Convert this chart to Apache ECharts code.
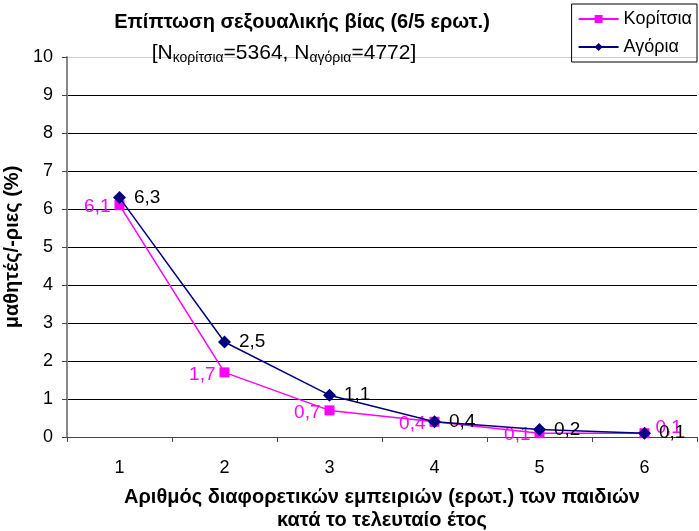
<!DOCTYPE html>
<html>
<head>
<meta charset="utf-8">
<script src="https://cdn.jsdelivr.net/npm/echarts@6/dist/echarts.min.js"></script>
<style>
  html, body { margin: 0; padding: 0; background: #fff; }
  #chart { width: 699px; height: 531px; }
</style>
</head>
<body>
<div id="chart"></div>
<script>
// categories (number of different experiences)
const categories = ['1', '2', '3', '4', '5', '6'];
// percentages
const girls = [6.1, 1.7, 0.7, 0.4, 0.1, 0.1];
const boys = [6.3, 2.5, 1.1, 0.4, 0.2, 0.1];
const yTicks = [0, 1, 2, 3, 4, 5, 6, 7, 8, 9, 10];

const font = 'Liberation Sans, Arial, sans-serif';
const fmt = (p) => String(p.value).replace('.', ',');

// last point of girls gets its label on the right like the original
const girlsData = girls.map((v, i) => i === girls.length - 1
  ? { value: v, label: { position: 'right', offset: [2, -5] } }
  : v);

// grid lines black, top one light grey
const gridColors = yTicks.map((t, i) => i === yTicks.length - 1 ? '#cccccc' : '#000');

const chart = echarts.init(document.getElementById('chart'));
chart.setOption({
  animation: false,
  textStyle: { fontFamily: font },
  title: [
    {
      text: 'Επίπτωση σεξουαλικής βίας (6/5 ερωτ.)',
      left: 297, top: 7, textAlign: 'center',
      textStyle: { fontSize: 20, fontWeight: 'bold', color: '#000', fontFamily: font }
    },
    {
      text: '{n|[N}{s|κορίτσια}{n|=5364, N}{s|αγόρια}{n|=4772]}',
      left: 279, top: 36, textAlign: 'center',
      textStyle: {
        fontFamily: font,
        fontWeight: 'normal',
        rich: {
          n: { fontSize: 21, color: '#000', fontFamily: font, fontWeight: 'normal' },
          s: { fontSize: 14, color: '#000', fontFamily: font, fontWeight: 'normal', padding: [10, 0, 0, 0] }
        }
      }
    }
  ],
  legend: {
    orient: 'vertical',
    right: 2, top: 4,
    itemWidth: 40, itemHeight: 10, itemGap: 10,
    padding: [6, 5, 6, 6],
    borderColor: '#000', borderWidth: 1,
    textStyle: { fontSize: 18, color: '#000', fontFamily: font },
    data: ['Κορίτσια', 'Αγόρια']
  },
  grid: { left: 67, right: 2, top: 57, bottom: 94, containLabel: false, outerBoundsMode: 'none' },
  xAxis: {
    type: 'category',
    data: categories,
    boundaryGap: true,
    name: 'Αριθμός διαφορετικών εμπειριών (ερωτ.) των παιδιών\nκατά το τελευταίο έτος',
    nameLocation: 'middle',
    nameGap: 49,
    nameTextStyle: { fontSize: 20, fontWeight: 700, color: '#000', lineHeight: 23, fontFamily: font },
    axisLine: { lineStyle: { color: '#444', width: 1 } },
    axisTick: { show: true, alignWithLabel: false, length: 5, lineStyle: { color: '#444' } },
    axisLabel: { fontSize: 18, color: '#000', margin: 22 },
    splitLine: { show: false }
  },
  yAxis: {
    type: 'value',
    min: yTicks[0], max: yTicks[yTicks.length - 1], interval: 1,
    name: 'μαθητές/-ριες (%)',
    nameLocation: 'middle',
    nameGap: 37,
    nameTextStyle: { fontSize: 20, fontWeight: 700, color: '#000', fontFamily: font },
    axisLine: { show: true, lineStyle: { color: '#888', width: 2 } },
    axisTick: { show: true, length: 5, lineStyle: { color: '#444' } },
    axisLabel: { fontSize: 18, color: '#000', margin: 14 },
    splitLine: { lineStyle: { color: gridColors, width: 1 } }
  },
  series: [
    {
      name: 'Κορίτσια',
      type: 'line',
      data: girlsData,
      color: '#ff00ff',
      symbol: 'rect',
      symbolSize: 10,
      lineStyle: { width: 1.5, color: '#ff00ff' },
      itemStyle: { color: '#ff00ff' },
      label: { show: true, position: 'left', distance: 4, offset: [0, 2], formatter: fmt, fontSize: 19, color: '#ff00ff' },
      z: 2
    },
    {
      name: 'Αγόρια',
      type: 'line',
      data: boys,
      color: '#000080',
      symbol: 'diamond',
      symbolSize: 13,
      lineStyle: { width: 1.5, color: '#000080' },
      itemStyle: { color: '#000080' },
      label: { show: true, position: 'right', distance: 8, formatter: fmt, fontSize: 19, color: '#000' },
      z: 3
    }
  ]
});
</script>
</body>
</html>
